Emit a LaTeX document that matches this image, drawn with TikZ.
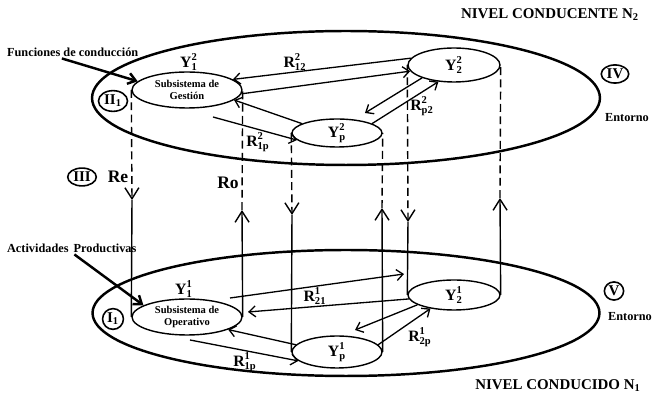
\documentclass[tikz,border=0pt]{standalone}
\usepackage{amsmath}
\usepackage{fontspec}
\setmainfont{Liberation Serif}
\usetikzlibrary{arrows.meta,shapes.geometric,calc}
\newcommand{\yl}[3]{$\textbf{#1}^{\textbf{#3}}_{\textbf{#2}}$}
\tikzset{
  lvl/plane/.style={draw, ellipse, line width=1.4pt, inner sep=0pt},
  lvl/sub/.style={draw, ellipse, line width=0.8pt, inner sep=0pt},
  lvl/tag/.style={draw, ellipse, line width=0.9pt, inner sep=0.8pt, font=\fontsize{8.5}{10}\selectfont\bfseries},
  lvl/lbl/.style={inner sep=1pt, font=\fontsize{9}{10}\selectfont\bfseries},
  lvl/small/.style={inner sep=0pt, align=center, font=\fontsize{6}{7}\selectfont\bfseries},
  lvl/note/.style={inner sep=1pt, font=\fontsize{7}{8}\selectfont\bfseries},
  lvl/title/.style={inner sep=1pt, font=\fontsize{8.5}{10}\selectfont\bfseries},
  lvl/rel/.style={line width=0.75pt, -{Straight Barb[length=1.3mm, width=2.2mm]}},
  lvl/flow/.style={line width=0.8pt},
  lvl/hidden/.style={line width=0.8pt, dash pattern=on 4.5pt off 2.5pt},
  lvl/tip/.style={-{Straight Barb[length=2.2mm, width=2.8mm]}},
  lvl/pointer/.style={line width=1.4pt, -{Straight Barb[length=1.5mm, width=2.2mm]}}
}
\begin{document}
\begin{tikzpicture}[x=0.02cm, y=-0.02cm]
  \useasboundingbox (0,0) rectangle (654,398);

  % the two levels
  \node[lvl/plane, minimum width=10.16cm, minimum height=2.68cm] (n2) at (346,98) {};
  \node[lvl/plane, minimum width=10.14cm, minimum height=2.52cm] (n1) at (346,313) {};

  % subsystems, level 2
  \node[lvl/sub, minimum width=2.2cm, minimum height=0.72cm] (ges) at (187,90) {};
  \node[lvl/sub, minimum width=1.84cm, minimum height=0.68cm] (y22) at (454,65) {};
  \node[lvl/sub, minimum width=1.8cm, minimum height=0.56cm] (yp2) at (337,133) {};
  % subsystems, level 1
  \node[lvl/sub, minimum width=2.2cm, minimum height=0.72cm] (ope) at (187,317) {};
  \node[lvl/sub, minimum width=1.84cm, minimum height=0.6cm] (y21) at (454,295) {};
  \node[lvl/sub, minimum width=1.8cm, minimum height=0.64cm] (yp1) at (337,352) {};

  \node[lvl/small] (gestxt) at (ges) {Subsistema de\\Gestión};
  \node[lvl/small] (opetxt) at (ope) {Subsistema de\\Operativo};
  \node[lvl/lbl] (y22txt) at (y22) {\yl{Y}{2}{2}};
  \node[lvl/lbl] (yp2txt) at (yp2) {\yl{Y}{p}{2}};
  \node[lvl/lbl] (y21txt) at (y21) {\yl{Y}{2}{1}};
  \node[lvl/lbl] (yp1txt) at (yp1) {\yl{Y}{p}{1}};
  \node[lvl/lbl] (y12txt) at (189,62) {\yl{Y}{1}{2}};
  \node[lvl/lbl] (y11txt) at (184,289) {\yl{Y}{1}{1}};

  % vertical links between levels
  \coordinate (re) at (132,200);
  \coordinate (ro) at (242,210);
  \coordinate (c3) at (292,215);
  \coordinate (c4) at (382,208);
  \coordinate (c5) at (408,222);
  \coordinate (c6) at (500,198);
  \draw[lvl/hidden, lvl/tip] (ges.west) -- (re);
  \draw[lvl/flow] (re) -- (ope.west);
  \draw[lvl/flow, lvl/tip] (ope.east) -- (ro);
  \draw[lvl/hidden] (ro) -- (ges.east);
  \draw[lvl/hidden, lvl/tip] (yp2.west) -- (c3);
  \draw[lvl/flow] (c3) -- (yp1.west);
  \draw[lvl/flow, lvl/tip] (yp1.east) -- (c4);
  \draw[lvl/hidden] (c4) -- (yp2.east);
  \draw[lvl/hidden, lvl/tip] (y22.west) -- (c5);
  \draw[lvl/flow] (c5) -- (y21.west);
  \draw[lvl/flow, lvl/tip] (y21.east) -- (c6);
  \draw[lvl/hidden] (c6) -- (y22.east);
  \node[lvl/lbl, font=\fontsize{10}{11}\selectfont\bfseries] (relbl) at (118,177) {Re};
  \node[lvl/lbl, font=\fontsize{10}{11}\selectfont\bfseries] (rolbl) at (228,183) {Ro};

  % relations, level 2
  \coordinate (a1) at (213,117);
  \coordinate (a2) at (365,113);
  \draw[lvl/rel] (y22.171) -- (ges.13);
  \draw[lvl/rel] (ges.-4) -- (y22.188);
  \draw[lvl/rel] (yp2.165) -- (ges.-12);
  \draw[lvl/rel] (a1) -- (yp2.190);
  \draw[lvl/rel] (y22.202) -- (a2);
  \draw[lvl/rel] (yp2.15) -- (y22.227);
  \node[lvl/lbl] (r122) at (295,62) {\yl{R}{12}{2}};
  \node[lvl/lbl] (r1p2) at (258,142) {\yl{R}{1p}{2}};
  \node[lvl/lbl] (rp22) at (422,106) {\yl{R}{p2}{2}};

  % relations, level 1
  \coordinate (b1) at (230,298);
  \coordinate (b2) at (404,274);
  \coordinate (b3) at (248,312);
  \coordinate (b4) at (190,340);
  \coordinate (b5) at (355,330);
  \draw[lvl/rel] (b1) -- (b2);
  \draw[lvl/rel] (y21.185) -- (b3);
  \draw[lvl/rel] (yp1.170) -- (ope.-17);
  \draw[lvl/rel] (b4) -- (yp1.193);
  \draw[lvl/rel] (y21.195) -- (b5);
  \draw[lvl/rel] (yp1.10) -- (y21.210);
  \node[lvl/lbl] (r211) at (315,296) {\yl{R}{21}{1}};
  \node[lvl/lbl] (r1p1) at (245,362) {\yl{R}{1p}{1}};
  \node[lvl/lbl] (r2p1) at (420,337) {\yl{R}{2p}{1}};

  % notes and tags
  \node[lvl/note, anchor=west] (fun) at (5,52) {Funciones de conducción};
  \node[lvl/note, anchor=west] (act) at (5,248) {Actividades\, Productivas};
  \draw[lvl/pointer] ($(fun.south west)!0.42!(fun.south east)$) -- (ges.170);
  \draw[lvl/pointer] ($(act.south west)!0.52!(act.south east)$) -- (ope.165);
  \node[lvl/tag] (tII) at (113,101) {II$_{\textbf{1}}$};
  \node[lvl/tag] (tI) at (113,319) {I$_{\textbf{1}}$};
  \node[lvl/tag] (tIII) at (82,177) {III};
  \node[lvl/tag] (tIV) at (615,74) {IV};
  \node[lvl/tag] (tV) at (614,291) {V};
  \node[lvl/note] (ent2) at (627,118) {Entorno};
  \node[lvl/note] (ent1) at (630,317) {Entorno};
  \node[lvl/title] (lv2) at (550,15) {NIVEL CONDUCENTE N$_{\textbf{2}}$};
  \node[lvl/title] (lv1) at (558,386) {NIVEL CONDUCIDO N$_{\textbf{1}}$};
\end{tikzpicture}
\end{document}
